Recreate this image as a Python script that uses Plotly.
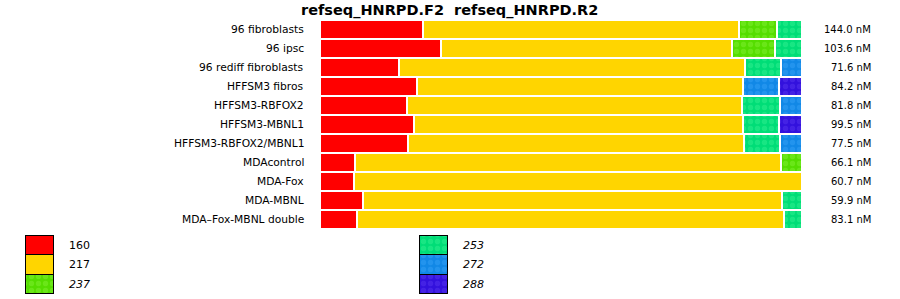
import plotly.graph_objects as go

samples = ["96 fibroblasts", "96 ipsc", "96 rediff fibroblasts", "HFFSM3 fibros",
           "HFFSM3-RBFOX2", "HFFSM3-MBNL1", "HFFSM3-RBFOX2/MBNL1", "MDAcontrol",
           "MDA-Fox", "MDA-MBNL", "MDA\u2013Fox-MBNL double"]
concentration_nM = [144.0, 103.6, 71.6, 84.2, 81.8, 99.5, 77.5, 66.1, 60.7, 59.9, 83.1]

isoforms = ["160", "217", "237", "253", "272", "288"]
s160 = [21.3, 25.0, 16.3, 20.2, 18.1, 19.6, 18.3, 7.3, 7.1, 9.0, 7.7]
s217 = [65.6, 60.4, 71.9, 67.5, 69.4, 68.1, 69.6, 88.3, 92.9, 86.9, 88.5]
s237 = [7.9, 9.0, None, None, None, None, None, 4.4, None, None, None]
s253 = [5.2, 5.6, 7.5, None, 7.9, 7.5, 7.5, None, None, 4.2, 3.8]
s272 = [None, None, 4.4, 7.5, 4.6, None, 4.6, None, None, None, None]
s288 = [None, None, None, 4.8, None, 4.8, None, None, None, None, None]
series = [s160, s217, s237, s253, s272, s288]
italic_label = [False, False, True, True, True, True]

base_colors = ["#FF0000", "#FFD500", "#55DD00", "#00DD77", "#1188E6", "#3311DD"]
dot_colors = [None, None, "#80F030", "#30F090", "#33A0F5", "#5533EE"]

W, H = 900, 299
FONT = "DejaVu Sans"

fig = go.Figure()


def marker_for(i, line_color, line_width):
    m = dict(color=base_colors[i], line=dict(color=line_color, width=line_width))
    if dot_colors[i]:
        m["pattern"] = dict(shape=".", fillmode="overlay", fgcolor=dot_colors[i],
                            size=7, solidity=0.45)
    return m


# main stacked bars
for i, (name, vals) in enumerate(zip(isoforms, series)):
    fig.add_trace(go.Bar(
        y=samples, x=vals, orientation="h", name=name, width=1.0,
        marker=marker_for(i, "white", 2), showlegend=False,
        xaxis="x", yaxis="y"))

# legend swatches drawn as bars on an overlay pixel axis
leg_x0 = [26, 420]
leg_w = 28
leg_y0 = 235.5
leg_h = 19.5
for i, name in enumerate(isoforms):
    col, row = divmod(i, 3)
    yc = leg_y0 + leg_h * row + leg_h / 2
    fig.add_trace(go.Bar(
        y=[yc], x=[leg_w], base=[leg_x0[col]], orientation="h", width=leg_h,
        marker=marker_for(i, "black", 1), showlegend=False, hoverinfo="skip",
        xaxis="x2", yaxis="y2"))
    txt = f"<i>{name}</i>" if italic_label[i] else name
    fig.add_annotation(xref="x2", yref="y2", x=leg_x0[col] + leg_w + 13, y=yc,
                       text=txt, showarrow=False, xanchor="left", yanchor="middle",
                       font=dict(family=FONT, size=11, color="black"))

# row labels and concentration labels
for s, c in zip(samples, concentration_nM):
    fig.add_annotation(xref="paper", yref="y", x=306 / W, y=s, text=s,
                       showarrow=False, xanchor="right", yanchor="middle",
                       font=dict(family=FONT, size=10.7, color="black"))
    fig.add_annotation(xref="paper", yref="y", x=873 / W, y=s, text=f"{c:.1f} nM",
                       showarrow=False, xanchor="right", yanchor="middle",
                       font=dict(family=FONT, size=10, color="black"))

fig.add_annotation(xref="paper", yref="paper", x=449 / W, y=1.0,
                   text="<b>refseq_HNRPD.F2  refseq_HNRPD.R2</b>", showarrow=False,
                   xanchor="center", yanchor="top",
                   font=dict(family=FONT, size=14.5, color="black"))

fig.update_layout(
    width=W, height=H, barmode="stack", bargap=0,
    margin=dict(l=0, r=0, t=0, b=0),
    paper_bgcolor="white", plot_bgcolor="rgba(0,0,0,0)",
    xaxis=dict(domain=[320 / W, 802 / W], range=[0, 100], visible=False, fixedrange=True),
    yaxis=dict(domain=[1 - 229 / H, 1 - 20 / H], autorange="reversed",
               visible=False, categoryorder="array", categoryarray=samples,
               fixedrange=True),
    xaxis2=dict(domain=[0, 1], range=[0, W], visible=False, anchor="y2", fixedrange=True),
    yaxis2=dict(domain=[0, 1], range=[H, 0], visible=False, anchor="x2", fixedrange=True),
    showlegend=False,
)

fig.write_html("out.html")
